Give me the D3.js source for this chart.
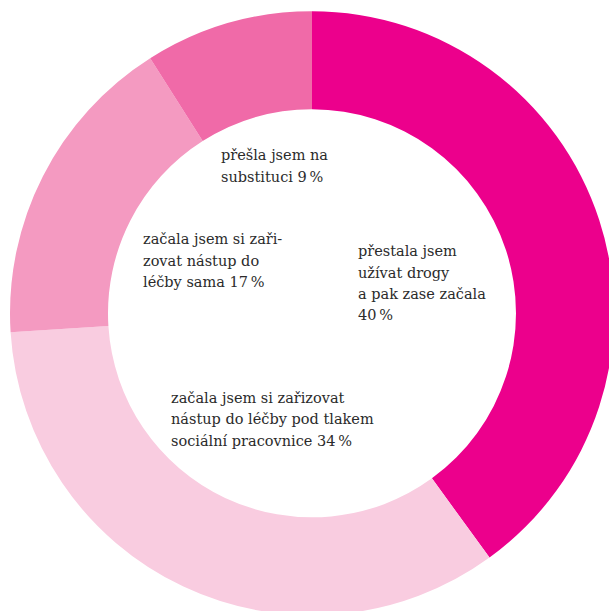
<!DOCTYPE html>
<html>
<head>
<meta charset="utf-8">
<script src="https://cdn.jsdelivr.net/npm/d3@7"></script>
<style>
  html, body { margin: 0; padding: 0; background: #fff; }
  svg { display: block; }
</style>
</head>
<body>
<div id="chart"></div>
<script>
// data
const categories = ['prestala', 'soc', 'sama', 'substituce']
const values = [40, 34, 17, 9]
const labels = [
  ['přestala jsem', 'užívat drogy', 'a pak zase začala', '40\u2009%'],
  ['začala jsem si zařizovat', 'nástup do léčby pod tlakem', 'sociální pracovnice 34\u2009%'],
  ['začala jsem si zaři-', 'zovat nástup do', 'léčby sama 17\u2009%'],
  ['přešla jsem na', 'substituci 9\u2009%'],
]

// layout
const width = 609
const height = 611
const cx = 312
const cy = 313.3
const outerR = 302
const innerR = 204
const colors = ['#ec008c', '#f9cce0', '#f49ac1', '#f06aa8']
// label anchor (left x, first baseline) relative to center
const labelPos = [[46, -57], [-141, 90], [-169, -69], [-91, -153]]
const lineH = 21.2

const svg = d3.select('#chart')
  .append('svg')
  .attr('width', width)
  .attr('height', height)

const g = svg.append('g')
  .attr('transform', `translate(${cx}, ${cy})`)

const pie = d3.pie()
  .value(d => d)
  .sort(null)

const arc = d3.arc()
  .innerRadius(innerR)
  .outerRadius(outerR)

g.selectAll('path')
  .data(pie(values))
  .enter()
  .append('path')
  .attr('d', arc)
  .attr('fill', (d, i) => colors[i])

const text = g.selectAll('text')
  .data(labels)
  .enter()
  .append('text')
  .attr('font-family', '"DejaVu Serif", serif')
  .attr('font-size', '14.5px')
  .attr('fill', '#2b2b2b')

text.selectAll('tspan')
  .data((d, i) => d.map((line, j) => ({ line, j, i })))
  .enter()
  .append('tspan')
  .attr('x', d => labelPos[d.i][0])
  .attr('y', d => labelPos[d.i][1] + d.j * lineH)
  .text(d => d.line)
</script>
</body>
</html>
